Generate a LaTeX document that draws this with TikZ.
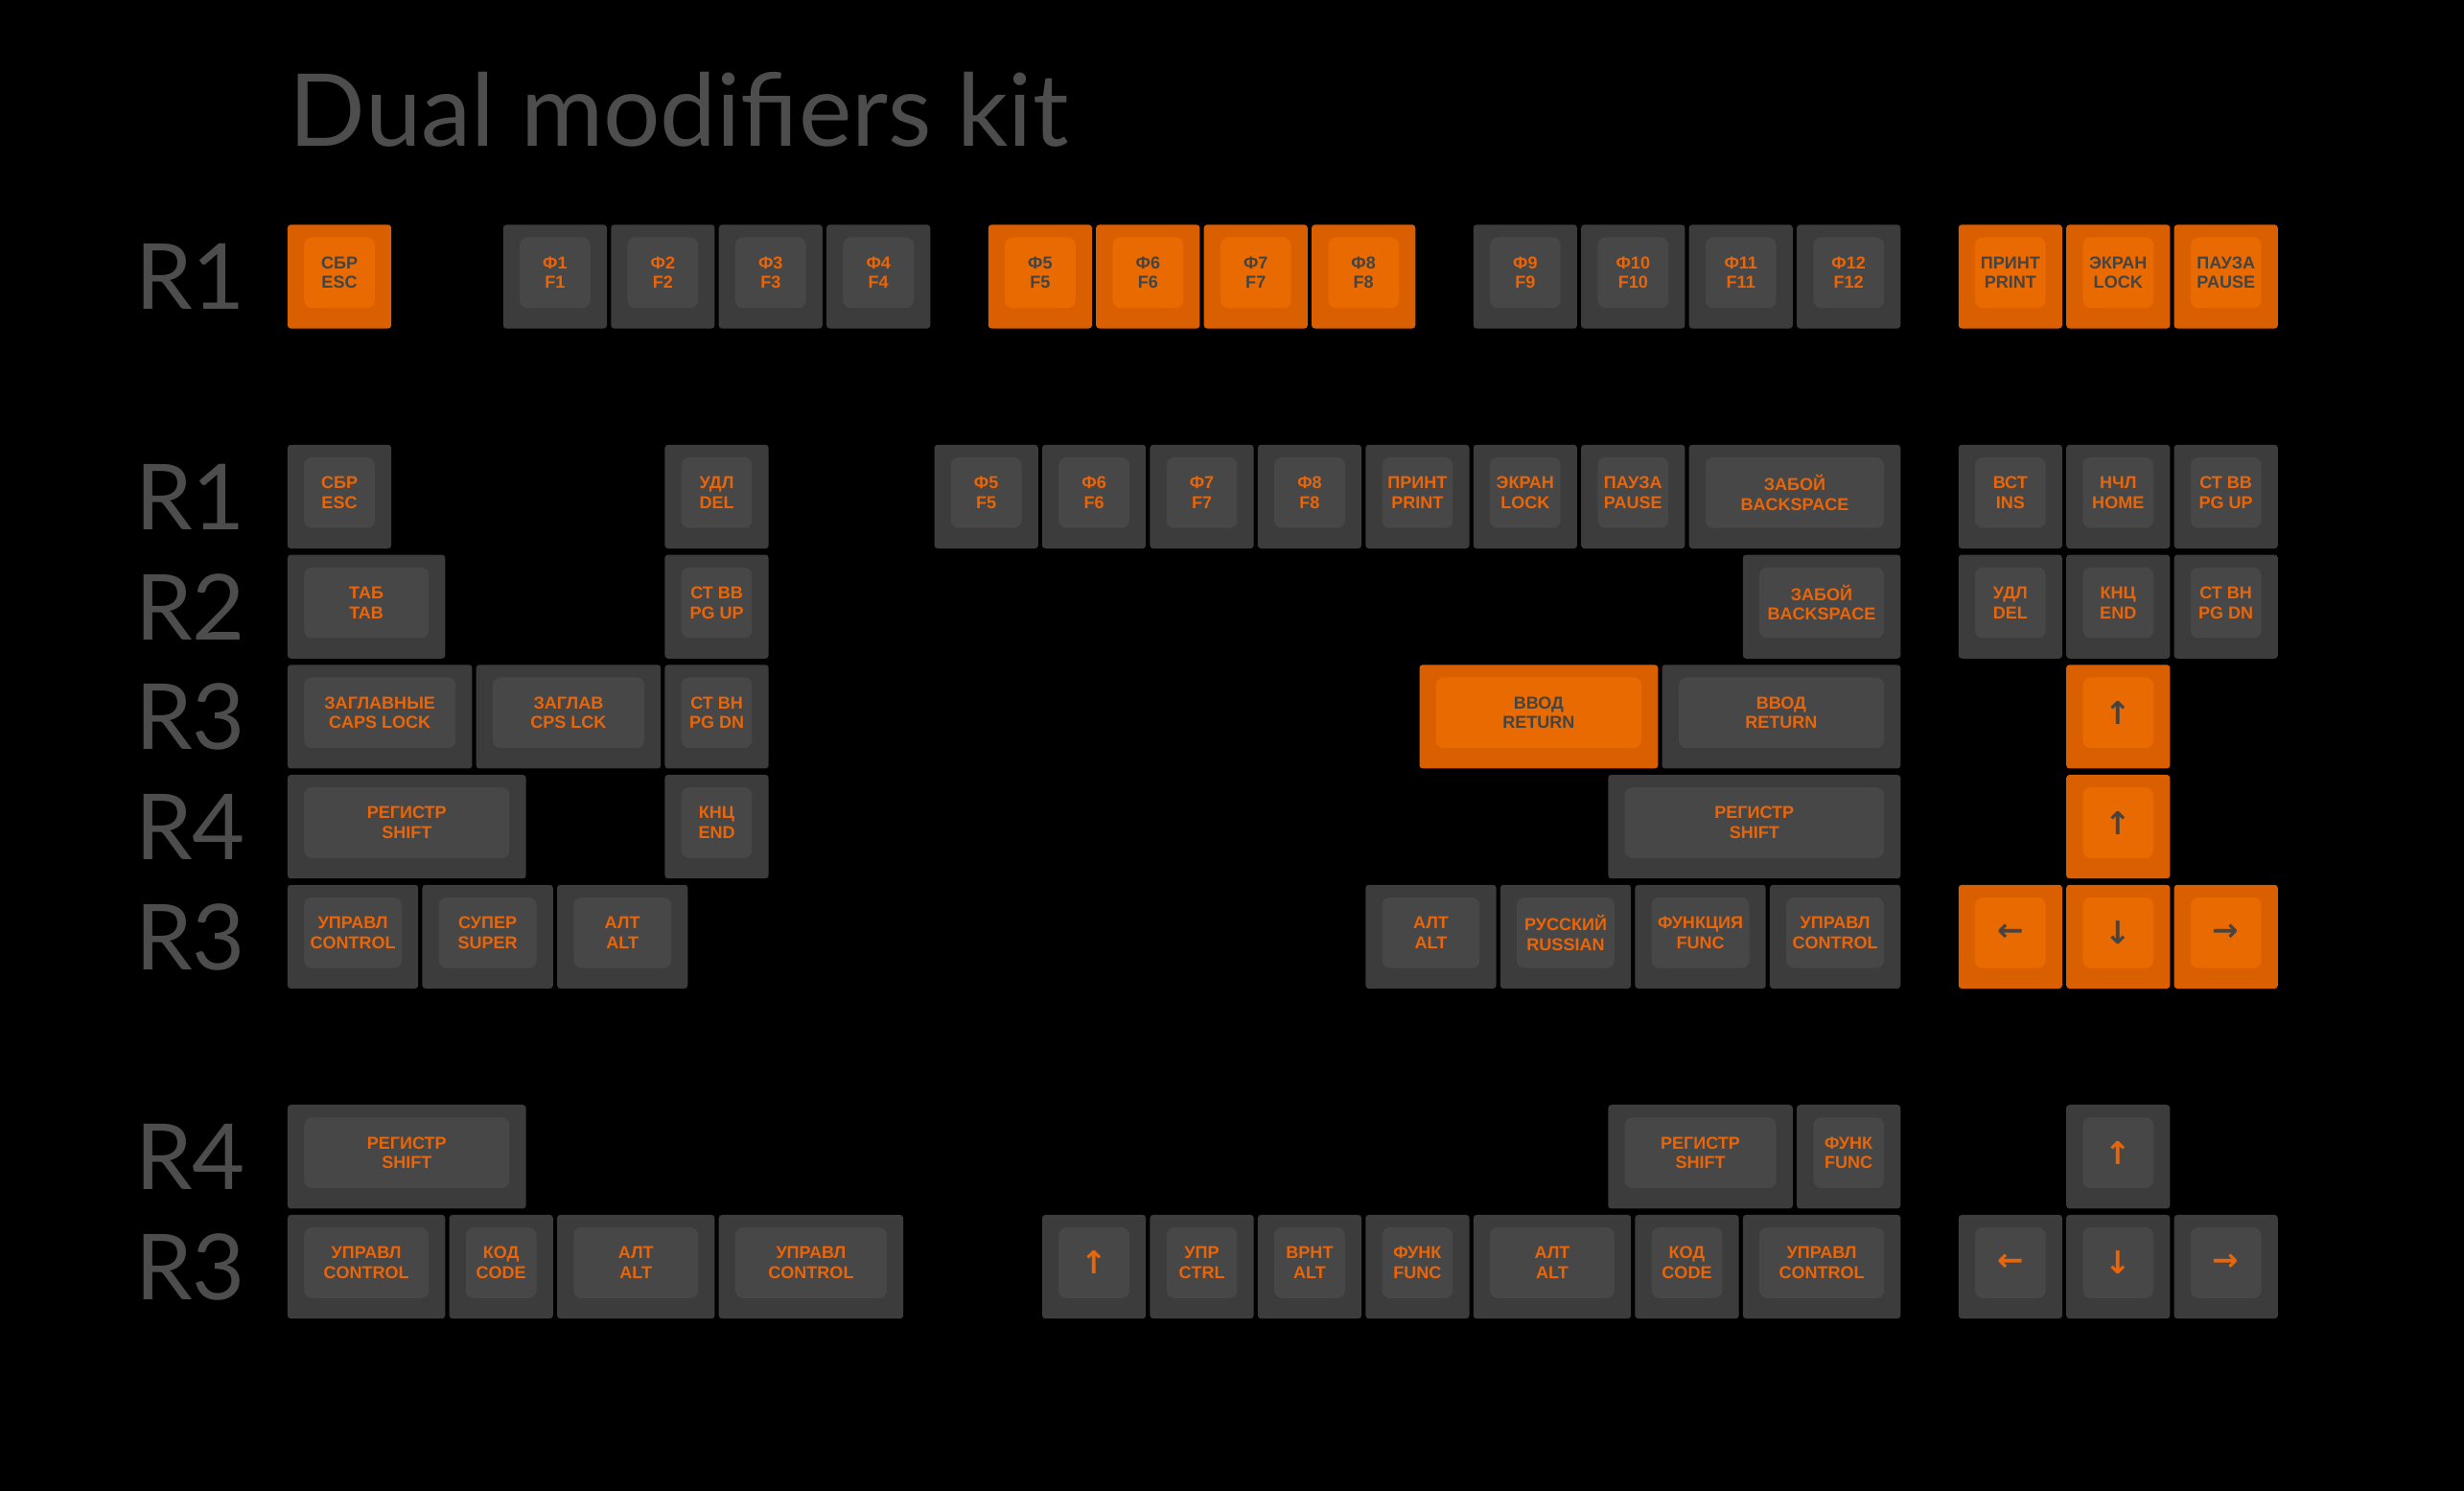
\documentclass[tikz,border=0pt]{standalone}
\usepackage{fontspec}
\newfontfamily\keyfont{Liberation Sans}
\newfontfamily\titlefont{Lato}
\newfontfamily\arrowfont{DejaVu Sans}
\definecolor{capdark}{HTML}{3C3C3C}
\definecolor{capdarktop}{HTML}{474747}
\definecolor{caporange}{HTML}{D95F00}
\definecolor{caporangetop}{HTML}{E86A00}
\definecolor{legendorange}{HTML}{E8650A}
\definecolor{legenddark}{HTML}{444444}
\definecolor{labelgray}{HTML}{4D4D4D}
\tikzset{
  darkout/.style={fill=capdark},
  darkin/.style={fill=capdarktop},
  darktxt/.style={text=legendorange, font=\keyfont\bfseries\fontsize{11}{12.5}\selectfont, align=center, inner sep=0pt},
  orangeout/.style={fill=caporange},
  orangein/.style={fill=caporangetop},
  orangetxt/.style={text=legenddark, font=\keyfont\bfseries\fontsize{11}{12.5}\selectfont, align=center, inner sep=0pt},
  rowlabel/.style={text=labelgray, font=\titlefont\fontsize{58}{58}\selectfont, anchor=base west, inner sep=0pt}
}
% name, column, top, width, colour, legend
\newcommand\keycap[6]{%
  \pgfmathsetmacro\xa{183+#2*68.6}\pgfmathsetmacro\xb{\xa+#4*68.6-2.6}
  \fill[#5out, rounded corners=2] (\xa,#3) rectangle (\xb,#3+66);
  \fill[#5in, rounded corners=5] (\xa+10.5,#3+8) rectangle (\xb-10.5,#3+53);
  \node[#5txt] (#1) at ({(\xa+\xb)/2},#3+30.5) {#6};}
\newcommand\arr[1]{{\arrowfont\fontsize{20}{20}\selectfont #1}}
\begin{document}
\begin{tikzpicture}[x=1pt, y=-1pt]
\fill[black] (0,0) rectangle (1568,949);
\useasboundingbox (0,0) rectangle (1568,949);
\node[text=labelgray, font=\titlefont\fontsize{64}{64}\selectfont, anchor=base west, inner sep=0pt] (title) at (184,93) {Dual modifiers kit};

% row labels
\foreach \name/\y/\txt in {la/176/R1, lb/316/R1, lc/386/R2, ld/456/R3, le/526/R4, lf/596/R3, lg/736/R4, lh/806/R3}
  \node[rowlabel] (\name) at (86,\y+21) {\txt};

% function row
\keycap{esc}{0}{143}{1}{orange}{СБР\\ESC}
\foreach \n/\c in {1/2,2/3,3/4,4/5}
  {\keycap{f\n}{\c}{143}{1}{dark}{Ф\n\\F\n}}
\foreach \n/\c in {5/6.5,6/7.5,7/8.5,8/9.5}
  {\keycap{f\n}{\c}{143}{1}{orange}{Ф\n\\F\n}}
\foreach \n/\c in {9/11,10/12,11/13,12/14}
  {\keycap{f\n}{\c}{143}{1}{dark}{Ф\n\\F\n}}
\keycap{prt}{15.5}{143}{1}{orange}{ПРИНТ\\PRINT}
\keycap{lck}{16.5}{143}{1}{orange}{ЭКРАН\\LOCK}
\keycap{pse}{17.5}{143}{1}{orange}{ПАУЗА\\PAUSE}

% R1
\keycap{escb}{0}{283}{1}{dark}{СБР\\ESC}
\keycap{delb}{3.5}{283}{1}{dark}{УДЛ\\DEL}
\foreach \n/\c in {5/6,6/7,7/8,8/9}
  {\keycap{fb\n}{\c}{283}{1}{dark}{Ф\n\\F\n}}
\keycap{prtb}{10}{283}{1}{dark}{ПРИНТ\\PRINT}
\keycap{lckb}{11}{283}{1}{dark}{ЭКРАН\\LOCK}
\keycap{pseb}{12}{283}{1}{dark}{ПАУЗА\\PAUSE}
\keycap{bspb}{13}{283}{2}{dark}{ЗАБОЙ\\BACKSPACE}
\keycap{insb}{15.5}{283}{1}{dark}{ВСТ\\INS}
\keycap{homb}{16.5}{283}{1}{dark}{НЧЛ\\HOME}
\keycap{pgub}{17.5}{283}{1}{dark}{СТ ВВ\\PG UP}

% R2
\keycap{tabc}{0}{353}{1.5}{dark}{ТАБ\\TAB}
\keycap{pguc}{3.5}{353}{1}{dark}{СТ ВВ\\PG UP}
\keycap{bspc}{13.5}{353}{1.5}{dark}{ЗАБОЙ\\BACKSPACE}
\keycap{delc}{15.5}{353}{1}{dark}{УДЛ\\DEL}
\keycap{endc}{16.5}{353}{1}{dark}{КНЦ\\END}
\keycap{pgdc}{17.5}{353}{1}{dark}{СТ ВН\\PG DN}

% R3
\keycap{capd}{0}{423}{1.75}{dark}{ЗАГЛАВНЫЕ\\CAPS LOCK}
\keycap{cpsd}{1.75}{423}{1.75}{dark}{ЗАГЛАВ\\CPS LCK}
\keycap{pgdd}{3.5}{423}{1}{dark}{СТ ВН\\PG DN}
\keycap{retd}{10.5}{423}{2.25}{orange}{ВВОД\\RETURN}
\keycap{rete}{12.75}{423}{2.25}{dark}{ВВОД\\RETURN}
\keycap{upd}{16.5}{423}{1}{orange}{\arr{↑}}

% R4
\keycap{lshe}{0}{493}{2.25}{dark}{РЕГИСТР\\SHIFT}
\keycap{ende}{3.5}{493}{1}{dark}{КНЦ\\END}
\keycap{rshe}{12.25}{493}{2.75}{dark}{РЕГИСТР\\SHIFT}
\keycap{upe}{16.5}{493}{1}{orange}{\arr{↑}}

% bottom row
\keycap{lctf}{0}{563}{1.25}{dark}{УПРАВЛ\\CONTROL}
\keycap{supf}{1.25}{563}{1.25}{dark}{СУПЕР\\SUPER}
\keycap{laltf}{2.5}{563}{1.25}{dark}{АЛТ\\ALT}
\keycap{raltf}{10}{563}{1.25}{dark}{АЛТ\\ALT}
\keycap{rusf}{11.25}{563}{1.25}{dark}{РУССКИЙ\\RUSSIAN}
\keycap{fncf}{12.5}{563}{1.25}{dark}{ФУНКЦИЯ\\FUNC}
\keycap{rctf}{13.75}{563}{1.25}{dark}{УПРАВЛ\\CONTROL}
\keycap{ltf}{15.5}{563}{1}{orange}{\arr{←}}
\keycap{dnf}{16.5}{563}{1}{orange}{\arr{↓}}
\keycap{rtf}{17.5}{563}{1}{orange}{\arr{→}}

% extra R4
\keycap{lshg}{0}{703}{2.25}{dark}{РЕГИСТР\\SHIFT}
\keycap{rshg}{12.25}{703}{1.75}{dark}{РЕГИСТР\\SHIFT}
\keycap{fncg}{14}{703}{1}{dark}{ФУНК\\FUNC}
\keycap{upg}{16.5}{703}{1}{dark}{\arr{↑}}

% extra R3
\keycap{lcth}{0}{773}{1.5}{dark}{УПРАВЛ\\CONTROL}
\keycap{cdh}{1.5}{773}{1}{dark}{КОД\\CODE}
\keycap{alth}{2.5}{773}{1.5}{dark}{АЛТ\\ALT}
\keycap{mcth}{4}{773}{1.75}{dark}{УПРАВЛ\\CONTROL}
\keycap{uph}{7}{773}{1}{dark}{\arr{↑}}
\keycap{cth}{8}{773}{1}{dark}{УПР\\CTRL}
\keycap{vah}{9}{773}{1}{dark}{ВРНТ\\ALT}
\keycap{fnh}{10}{773}{1}{dark}{ФУНК\\FUNC}
\keycap{raltp}{11}{773}{1.5}{dark}{АЛТ\\ALT}
\keycap{rcdh}{12.5}{773}{1}{dark}{КОД\\CODE}
\keycap{rcth}{13.5}{773}{1.5}{dark}{УПРАВЛ\\CONTROL}
\keycap{lth}{15.5}{773}{1}{dark}{\arr{←}}
\keycap{dnh}{16.5}{773}{1}{dark}{\arr{↓}}
\keycap{rth}{17.5}{773}{1}{dark}{\arr{→}}
\end{tikzpicture}
\end{document}
